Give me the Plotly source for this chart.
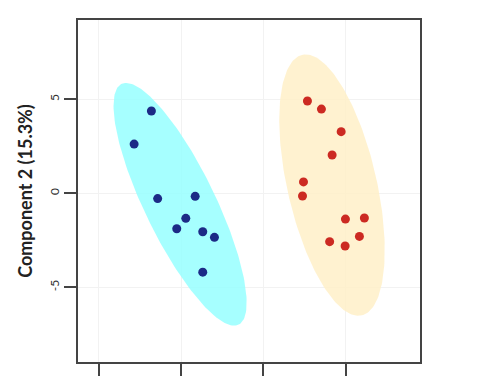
import numpy as np
import plotly.graph_objects as go

# Group 1 (blue) scores
blue_x = [-6.80, -7.85, -6.42, -4.14, -4.71, -5.26, -3.68, -2.97, -3.68]
blue_y = [4.38, 2.62, -0.28, -0.16, -1.33, -1.88, -2.04, -2.34, -4.19]
# Group 2 (red) scores
red_x = [2.68, 3.53, 4.73, 4.18, 2.44, 2.38, 4.99, 6.14, 5.84, 4.03, 4.97]
red_y = [4.91, 4.48, 3.28, 2.04, 0.61, -0.14, -1.37, -1.31, -2.29, -2.57, -2.80]

y_title = "Component 2 (15.3%)"
x_tickvals = [-10, -5, 0, 5]
y_tickvals = [-5, 0, 5]
y_ticktext = ["-5", "0", "5"]

CONF_SCALE = 2.4477  # sqrt(qchisq(0.95, 2))


def conf_ellipse(xs, ys, scale=CONF_SCALE, n=200):
    pts = np.vstack([xs, ys])
    mu = pts.mean(axis=1)
    cov = np.cov(pts)
    vals, vecs = np.linalg.eigh(cov)
    t = np.linspace(0, 2 * np.pi, n)
    circ = np.vstack([np.cos(t), np.sin(t)])
    e = vecs @ (np.sqrt(vals)[:, None] * circ) * scale
    return e[0] + mu[0], e[1] + mu[1]


fig = go.Figure()
ex, ey = conf_ellipse(blue_x, blue_y)
fig.add_trace(go.Scatter(x=ex, y=ey, mode="lines", fill="toself",
                         fillcolor="rgba(150,255,255,0.85)", line=dict(width=0),
                         hoverinfo="skip", showlegend=False))
ex, ey = conf_ellipse(red_x, red_y)
fig.add_trace(go.Scatter(x=ex, y=ey, mode="lines", fill="toself",
                         fillcolor="rgba(255,240,200,0.85)", line=dict(width=0),
                         hoverinfo="skip", showlegend=False))
fig.add_trace(go.Scatter(x=blue_x, y=blue_y, mode="markers",
                         marker=dict(size=9, color="#1c2a86"), showlegend=False))
fig.add_trace(go.Scatter(x=red_x, y=red_y, mode="markers",
                         marker=dict(size=9, color="#cc2a22"), showlegend=False))

axis_common = dict(showline=True, linecolor="#444444", linewidth=2, mirror=True,
                   showgrid=True, gridcolor="#f2f2f2", gridwidth=1,
                   zeroline=False, ticks="outside", ticklen=12, tickwidth=2,
                   tickcolor="#444444", automargin=False)

fig.update_xaxes(range=[-11.26, 9.52], tickvals=x_tickvals, showticklabels=False,
                 **axis_common)
fig.update_yaxes(range=[-8.97, 9.22], tickvals=y_tickvals, ticktext=y_ticktext,
                 tickangle=-90, tickfont=dict(family="Lato", size=12, color="#333333"),
                 title=dict(text="<b>" + y_title + "</b>", standoff=10,
                            font=dict(family="Lato", size=18, color="#222222")),
                 **axis_common)

# page body has an 8px default margin, so shift the figure up/left by 8px
fig.update_layout(width=484, height=380, margin=dict(l=70, r=72, t=12, b=26),
                  paper_bgcolor="white", plot_bgcolor="white")
fig.write_html("out.html")
